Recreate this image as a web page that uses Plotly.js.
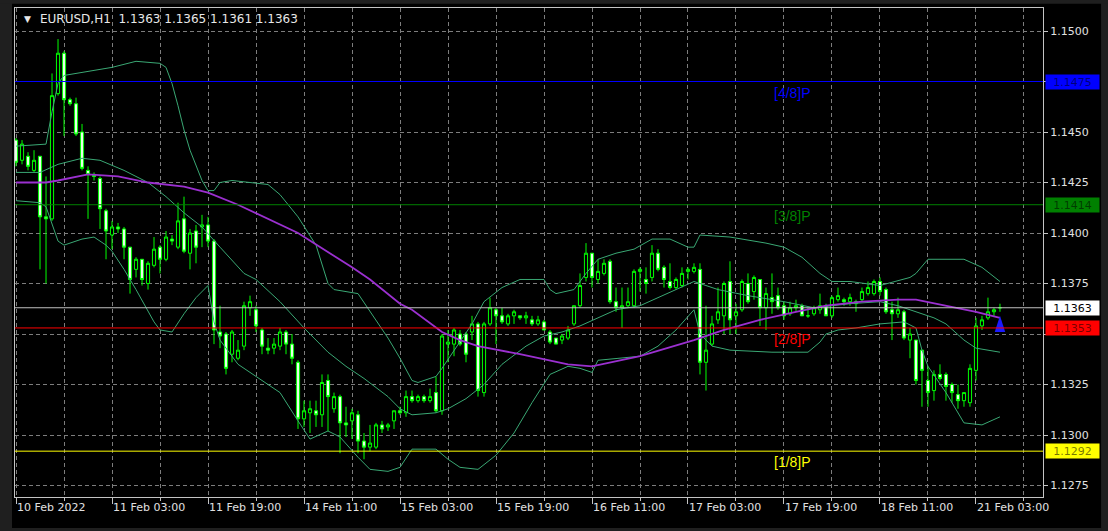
<!DOCTYPE html>
<html><head><meta charset="utf-8">
<script src="https://cdn.plot.ly/plotly-3.0.1.min.js"></script>
<style>html,body{margin:0;padding:0;background:#000;}#chart{width:1108px;height:531px;}</style>
</head><body><div id="chart"></div>
<script>
// ---- data (EURUSD H1, bar index 0 = 10 Feb 2022 11:00) ----
const titleText = 'EURUSD,H1\u00a0\u00a01.1363 1.1365 1.1361 1.1363';
const tickIdx = [0,16,32,48,64,80,96,112,128,144,160];
const tickLabels = ['10 Feb 2022','11 Feb 03:00','11 Feb 19:00','14 Feb 11:00','15 Feb 03:00','15 Feb 19:00','16 Feb 11:00','17 Feb 03:00','17 Feb 19:00','18 Feb 11:00','21 Feb 03:00'];
const priceTicks = [1.1275,1.1300,1.1325,1.1350,1.1375,1.1400,1.1425,1.1450,1.1475,1.1500];

const opens = [1.1446,1.1436,1.1438,1.1431,1.1438,1.1408,1.1407,1.1469,1.1489,1.1466,
1.1464,1.1450,1.1431,1.1429,1.1427,1.1411,1.1399,1.1403,1.1402,1.1393,
1.1382,1.1387,1.1375,1.1384,1.1393,1.1387,1.1397,1.1393,1.1407,1.1390,
1.1401,1.1403,1.1404,1.1396,1.1351,1.1350,1.1340,1.1338,1.1344,1.1363,
1.1362,1.1352,1.1343,1.1343,1.1344,1.1351,1.1345,1.1336,1.1308,1.1311,
1.1312,1.1310,1.1327,1.1313,1.1319,1.1306,1.1307,1.1310,1.1297,1.1294,
1.1294,1.1305,1.1304,1.1307,1.1312,1.1311,1.1319,1.1317,1.1319,1.1317,
1.1321,1.1312,1.1345,1.1345,1.1350,1.1350,1.1351,1.1355,1.1321,1.1355,
1.1362,1.1359,1.1355,1.1359,1.1359,1.1358,1.1357,1.1355,1.1356,1.1351,
1.1348,1.1347,1.1348,1.1355,1.1364,1.1378,1.1390,1.1377,1.1380,1.1386,
1.1366,1.1363,1.1364,1.1364,1.1381,1.1377,1.1378,1.1390,1.1383,1.1376,
1.1373,1.1374,1.1381,1.1381,1.1382,1.1336,1.1345,1.1357,1.1359,1.1376,
1.1359,1.1362,1.1375,1.1371,1.1377,1.1363,1.1368,1.1369,1.1364,1.1360,
1.1363,1.1364,1.1359,1.1360,1.1362,1.1364,1.1359,1.1367,1.1367,1.1366,
1.1366,1.1367,1.1370,1.1370,1.1376,1.1372,1.1362,1.1360,1.1361,1.1347,
1.1347,1.1342,1.1327,1.1322,1.1330,1.1330,1.1325,1.1320,1.1317,1.1316,
1.1332,1.1354,1.1358,1.1361,1.1363];
const highs = [1.1447,1.1446,1.1440,1.1441,1.1438,1.1428,1.1479,1.1496,1.1490,1.1467,
1.1467,1.1454,1.1433,1.1430,1.1428,1.1412,1.1406,1.1405,1.1403,1.1393,
1.1388,1.1387,1.1386,1.1398,1.1394,1.1401,1.1399,1.1415,1.1418,1.1402,
1.1404,1.1409,1.1408,1.1397,1.1364,1.1351,1.1352,1.1347,1.1366,1.1369,
1.1364,1.1353,1.1348,1.1348,1.1353,1.1352,1.1350,1.1337,1.1317,1.1317,
1.1317,1.1330,1.1330,1.1321,1.1320,1.1314,1.1313,1.1312,1.1301,1.1305,
1.1306,1.1307,1.1306,1.1312,1.1314,1.1322,1.1322,1.1320,1.1320,1.1323,
1.1329,1.1350,1.1352,1.1353,1.1352,1.1351,1.1359,1.1356,1.1356,1.1368,
1.1363,1.1363,1.1360,1.1362,1.1359,1.1361,1.1359,1.1359,1.1357,1.1352,
1.1348,1.1350,1.1354,1.1364,1.1380,1.1395,1.1390,1.1387,1.1387,1.1387,
1.1373,1.1373,1.1373,1.1382,1.1383,1.1383,1.1394,1.1392,1.1384,1.1385,
1.1378,1.1383,1.1383,1.1385,1.1385,1.1364,1.1359,1.1373,1.1376,1.1386,
1.1365,1.1377,1.1380,1.1379,1.1377,1.1373,1.1380,1.1373,1.1366,1.1366,
1.1367,1.1365,1.1363,1.1364,1.1370,1.1365,1.1369,1.1373,1.1368,1.1370,
1.1367,1.1373,1.1376,1.1377,1.1378,1.1373,1.1366,1.1368,1.1362,1.1353,
1.1347,1.1342,1.1334,1.1332,1.1335,1.1331,1.1326,1.1325,1.1321,1.1335,
1.1358,1.1359,1.1368,1.1363,1.1365];
const lows = [1.1433,1.1434,1.1431,1.1430,1.1382,1.1375,1.1406,1.1468,1.1448,1.1463,
1.1448,1.1431,1.1407,1.1426,1.1402,1.1387,1.1392,1.1400,1.1387,1.1370,
1.1378,1.1374,1.1372,1.1383,1.1380,1.1386,1.1394,1.1392,1.1390,1.1382,
1.1385,1.1393,1.1393,1.1345,1.1343,1.1330,1.1336,1.1337,1.1342,1.1359,
1.1351,1.1340,1.1340,1.1340,1.1342,1.1340,1.1335,1.1303,1.1304,1.1301,
1.1304,1.1304,1.1302,1.1311,1.1291,1.1299,1.1298,1.1291,1.1288,1.1292,
1.1293,1.1301,1.1302,1.1303,1.1310,1.1309,1.1316,1.1316,1.1316,1.1316,
1.1311,1.1310,1.1336,1.1339,1.1344,1.1336,1.1347,1.1319,1.1319,1.1354,
1.1345,1.1355,1.1354,1.1355,1.1357,1.1355,1.1354,1.1354,1.1352,1.1345,
1.1345,1.1345,1.1347,1.1354,1.1363,1.1376,1.1373,1.1375,1.1379,1.1365,
1.1361,1.1353,1.1363,1.1363,1.1371,1.1370,1.1376,1.1381,1.1373,1.1372,
1.1372,1.1373,1.1377,1.1380,1.1330,1.1322,1.1344,1.1355,1.1350,1.1350,
1.1350,1.1361,1.1365,1.1367,1.1354,1.1352,1.1360,1.1362,1.1357,1.1359,
1.1361,1.1359,1.1358,1.1359,1.1360,1.1359,1.1358,1.1366,1.1364,1.1364,
1.1361,1.1366,1.1369,1.1369,1.1369,1.1360,1.1347,1.1358,1.1347,1.1338,
1.1325,1.1314,1.1314,1.1317,1.1327,1.1317,1.1316,1.1313,1.1314,1.1314,
1.1327,1.1352,1.1357,1.1359,1.1361];
const closes = [1.1435,1.1444,1.1433,1.1436,1.1408,1.1407,1.1468,1.1489,1.1466,1.1464,
1.1449,1.1432,1.1429,1.1428,1.1412,1.1401,1.1403,1.1402,1.1393,1.1377,
1.1387,1.1377,1.1385,1.1392,1.1387,1.1398,1.1396,1.1406,1.1391,1.1400,
1.1393,1.1404,1.1396,1.1352,1.1349,1.1333,1.1351,1.1342,1.1364,1.1366,
1.1354,1.1344,1.1342,1.1345,1.1351,1.1345,1.1338,1.1308,1.1312,1.1313,
1.1310,1.1326,1.1319,1.1319,1.1306,1.1305,1.1311,1.1297,1.1294,1.1296,
1.1305,1.1303,1.1305,1.1312,1.1311,1.1319,1.1317,1.1319,1.1317,1.1319,
1.1312,1.1349,1.1346,1.1352,1.1345,1.1340,1.1355,1.1322,1.1355,1.1363,
1.1359,1.1356,1.1359,1.1361,1.1358,1.1359,1.1355,1.1357,1.1352,1.1346,
1.1345,1.1349,1.1352,1.1364,1.1374,1.1390,1.1378,1.1381,1.1385,1.1366,
1.1363,1.1364,1.1366,1.1381,1.1382,1.1375,1.1390,1.1382,1.1377,1.1373,
1.1377,1.1380,1.1382,1.1383,1.1336,1.1342,1.1355,1.1361,1.1375,1.1357,
1.1361,1.1376,1.1366,1.1378,1.1363,1.1370,1.1366,1.1363,1.1359,1.1363,
1.1364,1.1359,1.1359,1.1363,1.1364,1.1359,1.1368,1.1369,1.1366,1.1368,
1.1365,1.1371,1.1373,1.1376,1.1371,1.1361,1.1360,1.1362,1.1348,1.1350,
1.1327,1.1332,1.1321,1.1330,1.1328,1.1324,1.1321,1.1317,1.1321,1.1333,
1.1354,1.1357,1.1361,1.1362,1.1363];

// Bollinger bands (at the bar indices given)
const bbUpperIdx = [0,5,6,7,8,12,16,20,24,25,26,27,28,29,30,31,32,33,34,36,42,44,47,50,52,53,57,59,62,64,66,67,69,70,71,73,76,78,81,84,88,89,90,93,95,97,100,103,106,109,112,113,114,119,125,128,131,134,136,139,144,149,150,152,158,161,164];
const bbUpper = [1.1443,1.1444,1.1460,1.1474,1.1478,1.1480,1.1482,1.1485,1.1484,1.1482,1.1474,1.1463,1.1451,1.1441,1.1433,1.1426,1.1421,1.1421,1.1425,1.1426,1.1424,1.1419,1.1408,1.1394,1.1375,1.1372,1.1370,1.1361,1.1348,1.1338,1.1327,1.1326,1.1328,1.1329,1.1333,1.1342,1.1355,1.1366,1.1373,1.1377,1.1377,1.1372,1.1370,1.1372,1.1380,1.1387,1.1390,1.1392,1.1397,1.1397,1.1393,1.1393,1.1399,1.1398,1.1395,1.1393,1.1388,1.1380,1.1376,1.1376,1.1374,1.1378,1.1380,1.1387,1.1387,1.1383,1.1376];
const bbMidIdx = [0,4,7,11,14,18,22,25,28,31,34,38,40,44,48,52,55,58,62,64,66,70,72,75,78,81,85,88,91,94,97,100,104,107,110,113,117,122,128,133,139,144,147,150,153,155,158,160,164];
const bbMid = [1.1430,1.1430,1.1434,1.1437,1.1436,1.1431,1.1425,1.1418,1.1410,1.1403,1.1393,1.1380,1.1377,1.1366,1.1353,1.1341,1.1334,1.1328,1.1319,1.1313,1.1310,1.1311,1.1313,1.1318,1.1325,1.1335,1.1344,1.1349,1.1351,1.1354,1.1358,1.1362,1.1364,1.1368,1.1372,1.1376,1.1372,1.1369,1.1366,1.1363,1.1365,1.1366,1.1364,1.1361,1.1358,1.1355,1.1347,1.1343,1.1341];
const bbLowerIdx = [0,4,5,6,7,8,11,13,15,16,18,20,22,23,24,26,28,30,32,33,34,37,40,44,47,49,52,54,57,59,62,64,66,70,72,74,77,80,83,86,89,92,94,96,97,104,107,110,113,114,116,119,126,132,134,135,137,140,144,148,150,151,152,155,158,161,164];
const bbLower = [1.1416,1.1415,1.1413,1.1405,1.1396,1.1394,1.1397,1.1398,1.1394,1.1391,1.1382,1.1372,1.1361,1.1356,1.1352,1.1351,1.1360,1.1368,1.1374,1.1356,1.1347,1.1335,1.1329,1.1321,1.1307,1.1298,1.1302,1.1299,1.1289,1.1283,1.1282,1.1284,1.1293,1.1293,1.1288,1.1284,1.1283,1.1290,1.1301,1.1316,1.1330,1.1334,1.1333,1.1331,1.1337,1.1339,1.1344,1.1352,1.1362,1.1350,1.1344,1.1342,1.1341,1.1341,1.1346,1.1350,1.1352,1.1353,1.1355,1.1356,1.1353,1.1342,1.1334,1.1321,1.1306,1.1305,1.1309];
// Moving average (purple)
const maIdx = [0,5,7,12,17,22,28,32,37,47,56,59,64,66,71,74,77,84,92,96,104,113,118,124,130,135,141,147,150,155,160,164];
const maVals = [1.1425,1.1425,1.1426,1.1429,1.1428,1.1425,1.1423,1.1420,1.1414,1.1400,1.1383,1.1377,1.1365,1.1362,1.1351,1.1347,1.1344,1.1340,1.1335,1.1334,1.1339,1.1347,1.1352,1.1357,1.1361,1.1364,1.1366,1.1367,1.1367,1.1364,1.1361,1.1358];

// Murrey-style levels and signal arrow
const levelPrices = [1.1475,1.1414,1.1353,1.1292];
const levelNames = ['[4/8]P','[3/8]P','[2/8]P','[1/8]P'];
const levelColors = ['#0000ff','#008000','#ff0000','#ffff00'];
const levelLabelIdx = 126;
const arrowIdx = [164];
const arrowPrice = [1.1359];

// ---- build ----
const idx = opens.map((_, i) => i);
const bid = closes[closes.length - 1];
const FONT = 'DejaVu Sans, Tahoma, sans-serif';
const gridCol = '#7d7d7d';
const frameCol = '#c4c4c4';
const bandCol = '#3aa874';

const traces = [
  {type:'candlestick', x:idx, open:opens, high:highs, low:lows, close:closes,
   increasing:{line:{color:'#00ff00', width:1}, fillcolor:'#000000'},
   decreasing:{line:{color:'#00ff00', width:1}, fillcolor:'#e6ffe6'},
   whiskerwidth:0, hoverinfo:'skip', showlegend:false},
  {type:'scatter', mode:'lines', x:bbUpperIdx, y:bbUpper, line:{color:bandCol, width:1}, hoverinfo:'skip', showlegend:false},
  {type:'scatter', mode:'lines', x:bbMidIdx, y:bbMid, line:{color:bandCol, width:1}, hoverinfo:'skip', showlegend:false},
  {type:'scatter', mode:'lines', x:bbLowerIdx, y:bbLower, line:{color:bandCol, width:1}, hoverinfo:'skip', showlegend:false},
  {type:'scatter', mode:'lines', x:maIdx, y:maVals, line:{color:'#9b30d0', width:1.8}, hoverinfo:'skip', showlegend:false},
  {type:'scatter', mode:'markers', x:arrowIdx, y:arrowPrice, marker:{symbol:'arrow', size:17, color:'#1a1aff'}, hoverinfo:'skip', showlegend:false}
];

const shapes = [];
const annotations = [];
levelPrices.forEach((p, k) => {
  shapes.push({type:'line', xref:'paper', x0:0, x1:1, yref:'y', y0:p, y1:p, line:{color:levelColors[k], width:1}, layer:'above'});
  annotations.push({xref:'x', x:levelLabelIdx, xanchor:'left', yref:'y', y:p, yanchor:'top', yshift:-1,
    text:levelNames[k], showarrow:false, font:{family:'Liberation Sans, Arial, sans-serif', size:14, color:levelColors[k]}});
});
shapes.push({type:'line', xref:'paper', x0:0, x1:1, yref:'y', y0:bid, y1:bid, line:{color:'#c0c0c0', width:1}, layer:'above'});

// right-hand price boxes (they cover the axis labels at the same height)
const boxes = levelPrices.map((p, k) => ({p:p, bg:levelColors[k], fg:'rgba(0,0,0,0.55)'}));
boxes.splice(2, 0, {p:bid, bg:'#ffffff', fg:'#000000'});
const covered = v => boxes.some(b => Math.abs(b.p - v) < 0.0006);
boxes.forEach(b => {
  annotations.push({xref:'paper', x:1, xanchor:'left', xshift:2, yref:'y', y:b.p, yanchor:'middle',
    text:b.p.toFixed(4), showarrow:false, bgcolor:b.bg, width:51, height:12, borderpad:1, align:'center',
    font:{family:FONT, size:11, color:b.fg}});
});

// title
annotations.push({xref:'paper', x:0, xanchor:'left', xshift:7, yref:'paper', y:1, yanchor:'top', yshift:-4,
  text:'\u25BC', showarrow:false, font:{family:FONT, size:9, color:'#e8e8e8'}});
annotations.push({xref:'paper', x:0, xanchor:'left', xshift:23, yref:'paper', y:1, yanchor:'top', yshift:-2,
  text:titleText, showarrow:false, font:{family:FONT, size:12, color:'#e8e8e8'}});

// window chrome strips
const chrome = '#1f1f1f';
shapes.push({type:'rect', xref:'paper', yref:'paper', x0:-0.02, x1:-0.0029, y0:-0.08, y1:1.02, fillcolor:chrome, line:{width:0}, layer:'below'});
shapes.push({type:'rect', xref:'paper', yref:'paper', x0:-0.02, x1:1.08, y0:-0.08, y1:-0.0634, fillcolor:chrome, line:{width:0}, layer:'below'});
shapes.push({type:'rect', xref:'paper', yref:'paper', x0:1.0565, x1:1.08, y0:-0.08, y1:1.02, fillcolor:chrome, line:{width:0}, layer:'below'});
shapes.push({type:'rect', xref:'paper', yref:'paper', x0:-0.02, x1:1.08, y0:1.0085, y1:1.02, fillcolor:chrome, line:{width:0}, layer:'below'});

const layout = {
  width:1108, height:531,
  margin:{l:15, r:65, t:8, b:34, pad:0},
  paper_bgcolor:'#000000', plot_bgcolor:'#000000',
  showlegend:false, hovermode:false, dragmode:false,
  boxgap:0.25,
  xaxis:{range:[-0.17, 171.17], rangeslider:{visible:false}, type:'linear',
    tickmode:'array', tickvals:tickIdx, ticktext:tickLabels, ticklabelposition:'outside right',
    ticks:'outside', ticklen:6, tickcolor:frameCol, tickfont:{family:FONT, size:11, color:'#e0e0e0'},
    showgrid:true, gridcolor:gridCol, griddash:'4px,3px', gridwidth:1,
    minor:{dtick:8, tick0:0, showgrid:true, gridcolor:gridCol, griddash:'4px,3px', ticks:'outside', ticklen:3, tickcolor:frameCol},
    showline:true, linecolor:frameCol, linewidth:1, mirror:true, zeroline:false, fixedrange:true},
  yaxis:{range:[1.126931, 1.151139], side:'right', tickmode:'array', tickvals:priceTicks,
    ticktext:priceTicks.map(v => covered(v) ? '' : v.toFixed(4)),
    ticks:'outside', ticklen:4, tickcolor:frameCol, tickfont:{family:FONT, size:11, color:'#e0e0e0'},
    showgrid:true, gridcolor:gridCol, griddash:'4px,3px', gridwidth:1,
    showline:true, linecolor:frameCol, linewidth:1, mirror:true, zeroline:false, fixedrange:true},
  shapes:shapes, annotations:annotations
};

Plotly.newPlot('chart', traces, layout, {displayModeBar:false, staticPlot:true});
</script></body></html>
